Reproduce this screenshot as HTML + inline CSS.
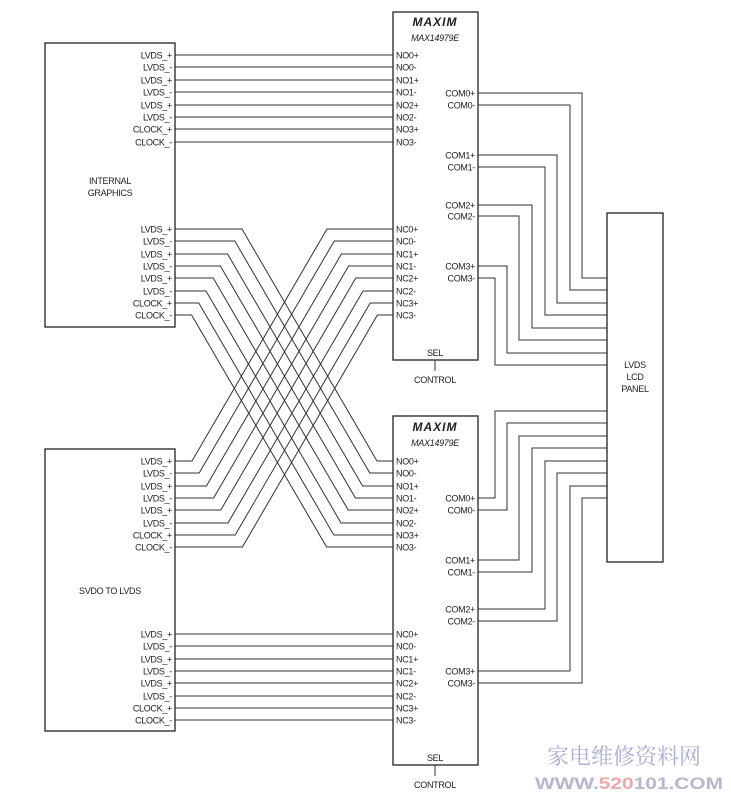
<!DOCTYPE html>
<html><head><meta charset="utf-8"><style>
html,body{margin:0;padding:0;background:#fff;}
svg{display:block;}
text{font-family:"Liberation Sans Narrow","Liberation Sans",sans-serif;font-size:9px;letter-spacing:-0.3px;fill:#222;}
.l{text-anchor:end;}
.c{text-anchor:middle;}
</style></head><body>
<svg width="731" height="793" viewBox="0 0 731 793" xmlns="http://www.w3.org/2000/svg">
<g fill="none" stroke="#333" stroke-width="1">
<path d="M175 55H393M175 67H393M175 80H393M175 92H393M175 105H393M175 117H393M175 129H393M175 142H393"/>
<path d="M175 634H393M175 646H393M175 659H393M175 671H393M175 683H393M175 696H393M175 708H393M175 720H393"/>
<polyline points="175,229 242,229 377,461 393,461"/>
<polyline points="175,241 234.8,241 369.8,473 393,473"/>
<polyline points="175,254 227.6,254 362.6,486 393,486"/>
<polyline points="175,266 220.4,266 355.4,498 393,498"/>
<polyline points="175,278 213.2,278 348.2,510 393,510"/>
<polyline points="175,291 206,291 341,523 393,523"/>
<polyline points="175,303 198.8,303 333.8,535 393,535"/>
<polyline points="175,315 191.6,315 326.6,547 393,547"/>
<polyline points="175,461 192,461 327,229 393,229"/>
<polyline points="175,473 199.2,473 334.2,241 393,241"/>
<polyline points="175,486 206.4,486 341.4,254 393,254"/>
<polyline points="175,498 213.6,498 348.6,266 393,266"/>
<polyline points="175,510 220.8,510 355.8,278 393,278"/>
<polyline points="175,523 228,523 363,291 393,291"/>
<polyline points="175,535 235.2,535 370.2,303 393,303"/>
<polyline points="175,547 242.4,547 377.4,315 393,315"/>
<polyline points="478,93 582,93 582,278 607,278"/>
<polyline points="478,105 570,105 570,290 607,290"/>
<polyline points="478,155 557,155 557,303 607,303"/>
<polyline points="478,167 545,167 545,315 607,315"/>
<polyline points="478,205 532,205 532,328 607,328"/>
<polyline points="478,216 519,216 519,340 607,340"/>
<polyline points="478,266 507,266 507,353 607,353"/>
<polyline points="478,278 495,278 495,365 607,365"/>
<polyline points="478,498 495,498 495,411 607,411"/>
<polyline points="478,510 507,510 507,423 607,423"/>
<polyline points="478,560 519,560 519,436 607,436"/>
<polyline points="478,572 532,572 532,448 607,448"/>
<polyline points="478,609 545,609 545,461 607,461"/>
<polyline points="478,621 557,621 557,473 607,473"/>
<polyline points="478,671 570,671 570,486 607,486"/>
<polyline points="478,683 582,683 582,498 607,498"/>
<path d="M435 360V371M435 765V776"/>
</g>
<g fill="none" stroke="#222" stroke-width="1.3">
<rect x="45" y="43" width="130" height="284"/>
<rect x="45" y="449" width="130" height="282"/>
<rect x="393" y="12" width="85" height="348"/>
<rect x="393" y="416" width="85" height="349"/>
<rect x="607" y="213" width="56" height="349"/>
</g>
<text class="l" x="172" y="58.5">LVDS_+</text>
<text class="l" x="172" y="70.5">LVDS_-</text>
<text class="l" x="172" y="83.5">LVDS_+</text>
<text class="l" x="172" y="95.5">LVDS_-</text>
<text class="l" x="172" y="108.5">LVDS_+</text>
<text class="l" x="172" y="120.5">LVDS_-</text>
<text class="l" x="172" y="132.5">CLOCK_+</text>
<text class="l" x="172" y="145.5">CLOCK_-</text>
<text class="l" x="172" y="232.5">LVDS_+</text>
<text class="l" x="172" y="244.5">LVDS_-</text>
<text class="l" x="172" y="257.5">LVDS_+</text>
<text class="l" x="172" y="269.5">LVDS_-</text>
<text class="l" x="172" y="281.5">LVDS_+</text>
<text class="l" x="172" y="294.5">LVDS_-</text>
<text class="l" x="172" y="306.5">CLOCK_+</text>
<text class="l" x="172" y="318.5">CLOCK_-</text>
<text class="c" x="110" y="184">INTERNAL</text>
<text class="c" x="110" y="196">GRAPHICS</text>
<text class="l" x="172" y="464.5">LVDS_+</text>
<text class="l" x="172" y="476.5">LVDS_-</text>
<text class="l" x="172" y="489.5">LVDS_+</text>
<text class="l" x="172" y="501.5">LVDS_-</text>
<text class="l" x="172" y="513.5">LVDS_+</text>
<text class="l" x="172" y="526.5">LVDS_-</text>
<text class="l" x="172" y="538.5">CLOCK_+</text>
<text class="l" x="172" y="550.5">CLOCK_-</text>
<text class="l" x="172" y="637.5">LVDS_+</text>
<text class="l" x="172" y="649.5">LVDS_-</text>
<text class="l" x="172" y="662.5">LVDS_+</text>
<text class="l" x="172" y="674.5">LVDS_-</text>
<text class="l" x="172" y="686.5">LVDS_+</text>
<text class="l" x="172" y="699.5">LVDS_-</text>
<text class="l" x="172" y="711.5">CLOCK_+</text>
<text class="l" x="172" y="723.5">CLOCK_-</text>
<text class="c" x="110" y="594">SVDO TO LVDS</text>
<text class="c" x="435" y="26" style="font-family:'Liberation Sans',sans-serif;font-weight:bold;font-style:italic;font-size:12px;letter-spacing:1px;">MAXIM</text>
<text class="c" x="435" y="41" style="font-style:italic;font-size:9px;">MAX14979E</text>
<text x="396" y="58.5">NO0+</text>
<text x="396" y="70.5">NO0-</text>
<text x="396" y="83.5">NO1+</text>
<text x="396" y="95.5">NO1-</text>
<text x="396" y="108.5">NO2+</text>
<text x="396" y="120.5">NO2-</text>
<text x="396" y="132.5">NO3+</text>
<text x="396" y="145.5">NO3-</text>
<text x="396" y="232.5">NC0+</text>
<text x="396" y="244.5">NC0-</text>
<text x="396" y="257.5">NC1+</text>
<text x="396" y="269.5">NC1-</text>
<text x="396" y="281.5">NC2+</text>
<text x="396" y="294.5">NC2-</text>
<text x="396" y="306.5">NC3+</text>
<text x="396" y="318.5">NC3-</text>
<text class="l" x="475" y="96.5">COM0+</text>
<text class="l" x="475" y="108.5">COM0-</text>
<text class="l" x="475" y="158.5">COM1+</text>
<text class="l" x="475" y="170.5">COM1-</text>
<text class="l" x="475" y="208.5">COM2+</text>
<text class="l" x="475" y="219.5">COM2-</text>
<text class="l" x="475" y="269.5">COM3+</text>
<text class="l" x="475" y="281.5">COM3-</text>
<text class="c" x="435" y="356">SEL</text>
<text class="c" x="435" y="383">CONTROL</text>
<text class="c" x="435" y="431" style="font-family:'Liberation Sans',sans-serif;font-weight:bold;font-style:italic;font-size:12px;letter-spacing:1px;">MAXIM</text>
<text class="c" x="435" y="446" style="font-style:italic;font-size:9px;">MAX14979E</text>
<text x="396" y="464.5">NO0+</text>
<text x="396" y="476.5">NO0-</text>
<text x="396" y="489.5">NO1+</text>
<text x="396" y="501.5">NO1-</text>
<text x="396" y="513.5">NO2+</text>
<text x="396" y="526.5">NO2-</text>
<text x="396" y="538.5">NO3+</text>
<text x="396" y="550.5">NO3-</text>
<text x="396" y="637.5">NC0+</text>
<text x="396" y="649.5">NC0-</text>
<text x="396" y="662.5">NC1+</text>
<text x="396" y="674.5">NC1-</text>
<text x="396" y="686.5">NC2+</text>
<text x="396" y="699.5">NC2-</text>
<text x="396" y="711.5">NC3+</text>
<text x="396" y="723.5">NC3-</text>
<text class="l" x="475" y="501.5">COM0+</text>
<text class="l" x="475" y="513.5">COM0-</text>
<text class="l" x="475" y="563.5">COM1+</text>
<text class="l" x="475" y="575.5">COM1-</text>
<text class="l" x="475" y="612.5">COM2+</text>
<text class="l" x="475" y="624.5">COM2-</text>
<text class="l" x="475" y="674.5">COM3+</text>
<text class="l" x="475" y="686.5">COM3-</text>
<text class="c" x="435" y="761">SEL</text>
<text class="c" x="435" y="788">CONTROL</text>
<text class="c" x="635" y="368">LVDS</text>
<text class="c" x="635" y="380">LCD</text>
<text class="c" x="635" y="392">PANEL</text>
<text x="547" y="764" style="font-family:'Liberation Serif','Noto Serif CJK SC',serif;font-size:22px;fill:#a9aed6;letter-spacing:0px;">家电维修资料网</text>
<text x="535" y="789" textLength="188" lengthAdjust="spacingAndGlyphs" style="font-family:'Liberation Sans',sans-serif;font-weight:bold;font-size:17px;fill:#b4b8cf;letter-spacing:0;">WWW.<tspan style="fill:#f0a8a8">520</tspan>101.COM</text>
</svg>
</body></html>
